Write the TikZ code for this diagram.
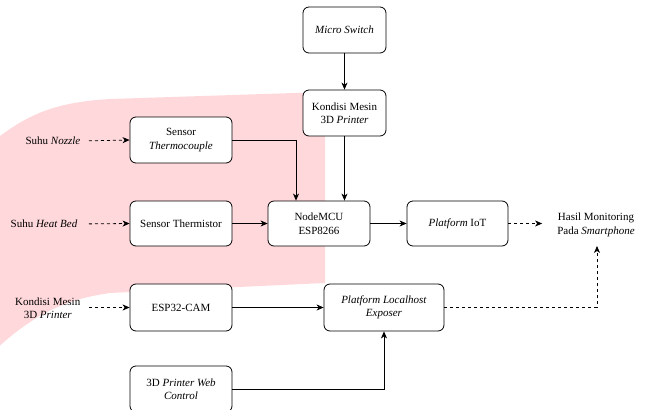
\documentclass[tikz,border=0pt]{standalone}
\usepackage{fontspec}
\setmainfont{Liberation Serif}
\usetikzlibrary{arrows.meta}
\definecolor{blob}{RGB}{255,216,219}
\tikzset{
  box/.style={draw, rounded corners=6pt, line width=0.8pt, fill=white, align=center, inner sep=0pt, font=\fontsize{11}{13.5}\selectfont},
  lbl/.style={align=center, inner sep=0pt, font=\fontsize{11}{13.5}\selectfont},
  arr/.style={line width=0.8pt, -{Stealth[length=7pt,width=6pt,inset=2pt]}},
  darr/.style={arr, dash pattern=on 3pt off 3pt}
}
\begin{document}
\begin{tikzpicture}[x=1pt,y=-1pt]
\useasboundingbox (0,0) rectangle (646,410);
\clip (0,0) rectangle (646,410);
% pink region
\fill[blob] (-5,140) .. controls (30,112) and (60,102) .. (110,99) -- (325,92) -- (325,283) -- (110,293) .. controls (60,300) and (30,318) .. (-5,350) -- cycle;
% boxes
\node[box, minimum width=83pt, minimum height=46pt] (ms) at (344.5,30) {\textit{Micro Switch}};
\node[box, minimum width=83pt, minimum height=46pt] (km) at (344.5,113) {Kondisi Mesin\\3D \textit{Printer}};
\node[box, minimum width=102pt, minimum height=46pt] (tc) at (181,140) {Sensor\\\textit{Thermocouple}};
\node[box, minimum width=102pt, minimum height=45pt] (th) at (181,223.5) {Sensor Thermistor};
\node[box, minimum width=102pt, minimum height=45pt] (nm) at (319,223.5) {NodeMCU\\ESP8266};
\node[box, minimum width=101pt, minimum height=45pt] (iot) at (457.5,223.5) {\textit{Platform} IoT};
\node[box, minimum width=102pt, minimum height=47pt] (cam) at (181,307.5) {ESP32-CAM};
\node[box, minimum width=120pt, minimum height=47pt] (lh) at (384,307.5) {\textit{Platform Localhost}\\\textit{Exposer}};
\node[box, minimum width=102pt, minimum height=46pt] (web) at (181,389) {3D \textit{Printer Web}\\\textit{Control}};
% labels
\node[lbl, anchor=east] (ln) at (80.5,141) {Suhu \textit{Nozzle}};
\node[lbl, anchor=east] (lhb) at (77.5,224) {Suhu \textit{Heat Bed}};
\node[lbl, anchor=east] (lkm) at (80.5,308) {Kondisi Mesin\\3D \textit{Printer}};
\node[lbl] (hasil) at (596,225) {Hasil Monitoring\\Pada \textit{Smartphone}};
% connectors
\draw[arr] (ms) -- (km);
\draw[arr] (km.south) -- (km.south |- nm.north);
\draw[arr] (tc.east) -| ([xshift=-23pt]nm.north);
\draw[arr] (th) -- (nm);
\draw[arr] (nm) -- (iot);
\draw[darr, shorten >=15pt] (iot) -- (iot -| hasil.west);
\draw[darr, shorten <=8.5pt] (ln.east) -- (tc.west);
\draw[darr, shorten <=11.5pt] (lhb.east) -- (th.west);
\draw[darr, shorten <=8.5pt] (lkm.east |- cam.west) -- (cam.west);
\draw[arr] (cam) -- (lh);
\draw[arr] (web.east) -| (lh.south);
\draw[darr, shorten >=9pt] (lh.east) -| ([xshift=1pt]hasil.south);
\end{tikzpicture}
\end{document}
